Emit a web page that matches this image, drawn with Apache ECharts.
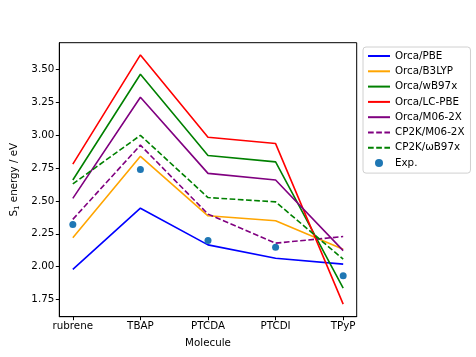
<!DOCTYPE html>
<html><head><meta charset="utf-8">
<script src="https://cdn.jsdelivr.net/npm/echarts@6/dist/echarts.min.js"></script>
<style>html,body{margin:0;padding:0;background:#fff}#c{width:476px;height:357px}</style>
</head><body><div id="c"></div>
<script>
const categories = ['rubrene','TBAP','PTCDA','PTCDI','TPyP'];
const orcaPBE    = [1.98, 2.445, 2.166, 2.064, 2.019];
const orcaB3LYP  = [2.22, 2.84, 2.387, 2.35, 2.133];
const orcaWB97x  = [2.66, 3.465, 2.846, 2.798, 1.836];
const orcaLCPBE  = [2.78, 3.612, 2.985, 2.937, 1.715];
const orcaM062X  = [2.52, 3.29, 2.71, 2.66, 2.122];
const cp2kM062X  = [2.36, 2.925, 2.40, 2.179, 2.229];
const cp2kWB97x  = [2.63, 3.00, 2.526, 2.493, 2.057];
const expValues  = [2.32, 2.74, 2.199, 2.148, 1.93];
const yTicks = [1.75, 2.00, 2.25, 2.50, 2.75, 3.00, 3.25, 3.50];

const pts = arr => arr.map((v, i) => [i, v]);
const font = 'DejaVu Sans';
const fs = 10.3;
function line(name, data, color, dashed) {
  return {
    name, type: 'line', data: pts(data), symbol: 'none', showSymbol: false,
    lineStyle: { color, width: 1.6, type: dashed ? [5.7, 2.5] : 'solid' },
    itemStyle: { color }, z: 2, animation: false
  };
}
const chart = echarts.init(document.getElementById('c'), null, { renderer: 'canvas' });
chart.setOption({
  animation: false,
  backgroundColor: '#fff',
  textStyle: { fontFamily: font, color: '#000' },
  grid: { left: 59.3, top: 42.7, right: 119.3, bottom: 40.3, show: true, borderColor: '#000', borderWidth: 1, backgroundColor: 'transparent' },
  xAxis: {
    type: 'value', min: -0.2, max: 4.2,
    name: 'Molecule', nameLocation: 'middle', nameGap: 22,
    nameTextStyle: { fontFamily: font, fontSize: fs, color: '#000' },
    axisLine: { show: true, onZero: false, lineStyle: { color: '#000', width: 1 } },
    axisTick: { show: true, length: 3.5, lineStyle: { color: '#000' }, customValues: [0,1,2,3,4] },
    axisLabel: { fontFamily: font, fontSize: fs, color: '#000', margin: 5, customValues: [0,1,2,3,4], formatter: v => categories[Math.round(v)] },
    splitLine: { show: false }
  },
  yAxis: {
    type: 'value', min: 1.619, max: 3.705,
    name: '{s|S}{sub|1}{s| energy / eV}', nameLocation: 'middle', nameGap: 33, nameRotate: 90,
    nameTextStyle: { fontFamily: font, fontSize: fs, color: '#000',
      rich: { s: { fontFamily: font, fontSize: fs, color: '#000' },
              sub: { fontFamily: font, fontSize: 7, color: '#000', padding: [5, 0, 0, 0] } } },
    axisLine: { show: true, onZero: false, lineStyle: { color: '#000', width: 1 } },
    axisTick: { show: true, length: 3.5, lineStyle: { color: '#000' }, customValues: yTicks },
    axisLabel: { fontFamily: font, fontSize: fs, color: '#000', margin: 5, customValues: yTicks, formatter: v => v.toFixed(2) },
    splitLine: { show: false }
  },
  legend: {
    orient: 'vertical', left: 363, top: 47,
    padding: [4, 6, 5, 4], itemWidth: 22, itemHeight: 8, itemGap: 5.3,
    backgroundColor: 'rgba(255,255,255,0.8)', borderColor: '#d0d0d0', borderWidth: 1, borderRadius: 3,
    textStyle: { fontFamily: font, fontSize: fs, color: '#000' },
    data: [
      { name: 'Orca/PBE', itemStyle: { opacity: 0 } },
      { name: 'Orca/B3LYP', itemStyle: { opacity: 0 } },
      { name: 'Orca/wB97x', itemStyle: { opacity: 0 } },
      { name: 'Orca/LC-PBE', itemStyle: { opacity: 0 } },
      { name: 'Orca/M06-2X', itemStyle: { opacity: 0 } },
      { name: 'CP2K/M06-2X', itemStyle: { opacity: 0 } },
      { name: 'CP2K/ωB97x', itemStyle: { opacity: 0 } },
      { name: 'Exp.' }
    ]
  },
  series: [
    line('Orca/PBE', orcaPBE, '#0000ff', false),
    line('Orca/B3LYP', orcaB3LYP, '#ffa500', false),
    line('Orca/wB97x', orcaWB97x, '#008000', false),
    line('Orca/LC-PBE', orcaLCPBE, '#ff0000', false),
    line('Orca/M06-2X', orcaM062X, '#800080', false),
    line('CP2K/M06-2X', cp2kM062X, '#800080', true),
    line('CP2K/ωB97x', cp2kWB97x, '#008000', true),
    { name: 'Exp.', type: 'scatter', data: pts(expValues), symbol: 'circle', symbolSize: 7,
      itemStyle: { color: '#1f77b4', opacity: 1 }, z: 3, animation: false }
  ]
});
</script></body></html>
